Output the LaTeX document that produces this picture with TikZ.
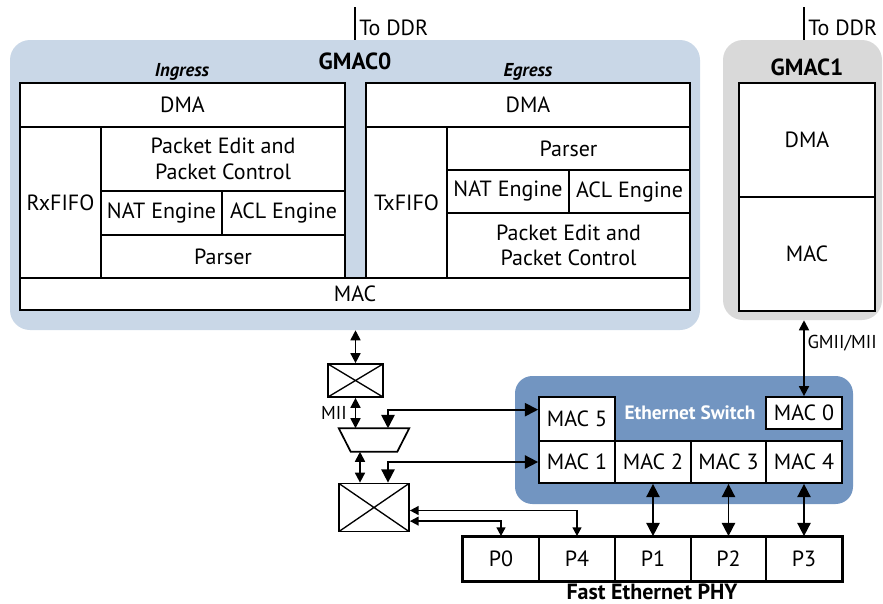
\documentclass[tikz,border=0pt]{standalone}
\usepackage{fontspec}
\setmainfont{PT Sans}
\usetikzlibrary{arrows.meta,shapes.geometric,calc}
\definecolor{gmaczero}{HTML}{C9D7E7}
\definecolor{gmacone}{HTML}{D9D9D9}
\definecolor{swblue}{HTML}{7295C1}
\newcommand\cbox[6]{\node[cell,minimum width={(#4-#2)*0.75pt},minimum height={(#5-#3)*0.75pt}] (#1) at ({(#2+#4)/2},{(#3+#5)/2}) {#6};}
\begin{document}
\begin{tikzpicture}[x=0.75pt,y=-0.75pt,
  cell/.style={draw,fill=white,line width=1.3pt,inner sep=0pt,align=center,font=\fontsize{16.5}{19}\selectfont},
  panel/.style={inner sep=0pt,rounded corners=15pt},
  bigtip/.style={{Triangle[length=10pt,width=10pt]}-{Triangle[length=10pt,width=10pt]}},
  midtip/.style={{Triangle[length=7.5pt,width=7.5pt]}-{Triangle[length=7.5pt,width=7.5pt]}},
  smalltip/.style={{Triangle[length=6.5pt,width=6.5pt]}-{Triangle[length=6.5pt,width=6.5pt]}},
  conn/.style={line width=1.3pt},
  crossbox/.style={draw,fill=white,line width=1.3pt,inner sep=0pt,
    path picture={\draw[line width=1pt] (path picture bounding box.north west) -- (path picture bounding box.south east)
      (path picture bounding box.south west) -- (path picture bounding box.north east);}},
  lbl/.style={inner sep=0pt,font=\fontsize{16.5}{19}\selectfont},
  head/.style={inner sep=0pt,font=\fontsize{17.5}{20}\selectfont\bfseries},
]
\useasboundingbox (0,0) rectangle (883,604);
% panels
\node[panel,fill=gmaczero,minimum width={690*0.75pt},minimum height={290*0.75pt}] (gmac0) at (355,185) {};
\node[panel,fill=gmacone,minimum width={159*0.75pt},minimum height={280*0.75pt}] (gmac1) at (802.5,180) {};
\node[panel,fill=swblue,rounded corners=13pt,minimum width={338*0.75pt},minimum height={128*0.75pt}] (switch) at (684,440) {};
% labels of panels
\node[head] (g0lbl) at (355,61) {GMAC0};
\node[head] (g1lbl) at (807,67) {GMAC1};
\node[lbl,font=\fontsize{14}{16}\selectfont\bfseries\itshape] (ing) at (182,72) {Ingress};
\node[lbl,font=\fontsize{14}{16}\selectfont\bfseries\itshape] (egr) at (528,72) {Egress};
\node[lbl,font=\fontsize{14.5}{16}\selectfont\bfseries,text=white] (swlbl) at (690,413) {Ethernet Switch};
% To DDR
\coordinate (ddr0) at (355,7);
\coordinate (ddr1) at (804,7);
\draw[line width=1pt] (gmac0.north) -- (ddr0);
\draw[line width=1pt] (gmac1.north -| ddr1) -- (ddr1);
\node[lbl,anchor=west] (ddr0lbl) at (359,28) {To DDR};
\node[lbl,anchor=west] (ddr1lbl) at (808,28) {To DDR};
% ingress
\cbox{idma}{20}{83}{345}{127}{DMA}
\cbox{rxfifo}{20}{127}{101}{278}{RxFIFO}
\cbox{ipe}{101}{127}{345}{191}{Packet Edit and\\Packet Control}
\cbox{inat}{101}{191}{222}{235}{NAT Engine}
\cbox{iacl}{222}{191}{345}{235}{ACL Engine}
\cbox{ipar}{101}{235}{345}{278}{Parser}
\cbox{mac}{20}{278}{690}{310}{MAC}
% egress
\cbox{edma}{366}{83}{690}{127}{DMA}
\cbox{txfifo}{366}{127}{447}{278}{TxFIFO}
\cbox{epar}{447}{127}{690}{170}{Parser}
\cbox{enat}{447}{170}{569}{213}{NAT Engine}
\cbox{eacl}{569}{170}{690}{213}{ACL Engine}
\cbox{epe}{447}{213}{690}{278}{Packet Edit and\\Packet Control}
% gmac1
\cbox{g1dma}{739}{83}{875}{197}{DMA}
\cbox{g1mac}{739}{197}{875}{311}{MAC}
% switch
\cbox{mac5}{539}{397}{615}{441}{MAC 5}
\cbox{mac0}{766}{397}{842}{429}{MAC 0}
\cbox{mac1}{539}{441}{615}{483}{MAC 1}
\cbox{mac2}{615}{441}{691}{483}{MAC 2}
\cbox{mac3}{691}{441}{766}{483}{MAC 3}
\cbox{mac4}{766}{441}{842}{483}{MAC 4}
% phy
\cbox{p0}{463}{537}{539}{581}{P0}
\cbox{p4}{539}{537}{615}{581}{P4}
\cbox{p1}{615}{537}{691}{581}{P1}
\cbox{p2}{691}{537}{766}{581}{P2}
\cbox{p3}{766}{537}{842}{581}{P3}
\draw[line width=2.2pt] (p0.north west) rectangle (p3.south east);
\node[head,font=\fontsize{16.5}{19}\selectfont\bfseries,anchor=base] (phylbl) at (652,599) {Fast Ethernet PHY};
% left side blocks
\node[crossbox,minimum width={55*0.75pt},minimum height={33*0.75pt}] (box1) at (355.5,380.5) {};
\node[inner sep=0pt,minimum width={70*0.75pt},minimum height={23*0.75pt}] (mux) at (374,440) {};
\draw[line width=1.3pt,fill=white] (mux.north west) -- (mux.north east) -- ([xshift=-9pt]mux.south east) -- ([xshift=9pt]mux.south west) -- cycle;
\node[crossbox,minimum width={70*0.75pt},minimum height={48*0.75pt}] (box2) at (374,507.5) {};
% connectors
\draw[conn,midtip] (box1.north) -- (box1.north |- gmac0.south);
\draw[conn,midtip] (box1.south) -- (box1.south |- mux.north);
\node[lbl,font=\fontsize{14}{16}\selectfont,anchor=east] (miilbl) at (347,413) {MII};
\draw[conn,midtip] ([xshift=-10.5pt]mux.south) -- ([xshift=-10.5pt]box2.north);
\draw[conn,bigtip] ([xshift=10.5pt]mux.north) |- ([yshift=7pt]mac5.west);
\draw[conn,bigtip] ([xshift=10.5pt]box2.north) |- (mac1.west);
\draw[conn,smalltip] ([yshift=-2.25pt]box2.east) -| (p4.north);
\draw[conn,smalltip] ([yshift=-10.2pt]box2.east) -| (p0.north);
\draw[conn,bigtip] (mac2.south) -- (p1.north);
\draw[conn,bigtip] (mac3.south) -- (p2.north);
\draw[conn,bigtip] (mac4.south) -- (p3.north);
\draw[conn,midtip] (mac0.north) -- (mac0.north |- gmac1.south) node[pos=0.7,anchor=west,lbl,font=\fontsize{14}{16}\selectfont,xshift=2pt] (gmiilbl) {GMII/MII};
\end{tikzpicture}
\end{document}
